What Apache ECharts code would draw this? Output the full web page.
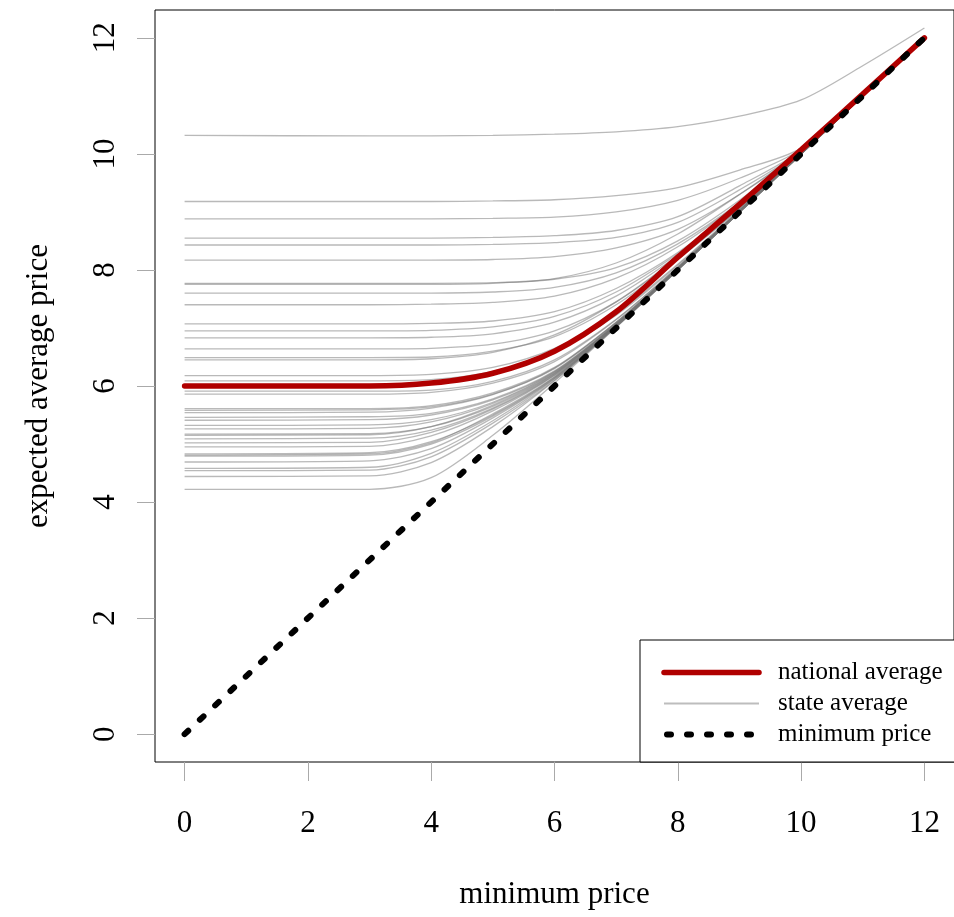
<!DOCTYPE html>
<html>
<head>
<meta charset="utf-8">
<script src="https://cdn.jsdelivr.net/npm/echarts@6/dist/echarts.min.js"></script>
<style>html,body{margin:0;padding:0;background:#fff}#c{width:954px;height:917px}</style>
</head>
<body>
<div id="c"></div>
<script>
// minimum price values at which curves were read
const minimumPriceGrid = [0, 3, 4, 5, 6, 7, 8, 9, 10, 11, 12];
const tickValues = [0, 2, 4, 6, 8, 10, 12];
const legendNames = ['national average', 'state average', 'minimum price'];

const nationalAverage = [6.00, 6.00, 6.05, 6.22, 6.60, 7.28, 8.22, 9.13, 10.07, 11.03, 12.00];
const minimumPriceX = [0, 12];
const minimumPriceY = [0, 12];

const state01 = [10.32, 10.31, 10.31, 10.32, 10.34, 10.38, 10.47, 10.65, 10.93, 11.52, 12.17];
const state02 = [9.18, 9.18, 9.18, 9.19, 9.21, 9.28, 9.42, 9.72, 10.10, 11.02, 12.0];
const state03 = [8.88, 8.88, 8.88, 8.89, 8.91, 9.00, 9.20, 9.58, 10.08, 11.02, 12.0];
const state04 = [8.55, 8.55, 8.55, 8.56, 8.59, 8.68, 8.92, 9.45, 10.06, 11.01, 12.0];
const state05 = [8.43, 8.43, 8.43, 8.44, 8.47, 8.56, 8.82, 9.38, 10.05, 11.01, 12.0];
const state06 = [8.17, 8.17, 8.17, 8.18, 8.23, 8.38, 8.70, 9.30, 10.05, 11.01, 12.0];
const state07 = [7.77, 7.77, 7.77, 7.78, 7.84, 8.04, 8.50, 9.20, 10.04, 11.01, 12.0];
const state08 = [7.75, 7.75, 7.75, 7.77, 7.85, 8.12, 8.62, 9.30, 10.06, 11.01, 12.0];
const state09 = [7.60, 7.60, 7.60, 7.62, 7.70, 7.95, 8.45, 9.16, 10.03, 11.0, 12.0];
const state10 = [7.40, 7.40, 7.41, 7.44, 7.55, 7.86, 8.40, 9.15, 10.03, 11.0, 12.0];
const state11 = [7.07, 7.07, 7.08, 7.12, 7.28, 7.68, 8.30, 9.10, 10.02, 11.0, 12.0];
const state12 = [6.95, 6.95, 6.96, 7.02, 7.20, 7.62, 8.28, 9.08, 10.02, 11.0, 12.0];
const state13 = [6.83, 6.83, 6.84, 6.90, 7.10, 7.55, 8.25, 9.08, 10.02, 11.0, 12.0];
const state14 = [6.64, 6.64, 6.65, 6.72, 6.95, 7.45, 8.20, 9.06, 10.02, 11.0, 12.0];
const state15 = [6.49, 6.49, 6.50, 6.60, 6.85, 7.40, 8.18, 9.05, 10.01, 11.0, 12.0];
const state16 = [6.45, 6.45, 6.47, 6.58, 6.88, 7.45, 8.22, 9.07, 10.02, 11.0, 12.0];
const state17 = [6.18, 6.18, 6.20, 6.32, 6.65, 7.25, 8.10, 9.03, 10.01, 11.0, 12.0];
const state18 = [6.09, 6.09, 6.11, 6.25, 6.60, 7.22, 8.08, 9.03, 10.01, 11.0, 12.0];
const state19 = [5.91, 5.91, 5.93, 6.08, 6.45, 7.15, 8.05, 9.02, 10.0, 11.0, 12.0];
const state20 = [5.86, 5.86, 5.89, 6.05, 6.42, 7.14, 8.05, 9.02, 10.0, 11.0, 12.0];
const state21 = [5.61, 5.61, 5.66, 5.88, 6.32, 7.10, 8.03, 9.01, 10.0, 11.0, 12.0];
const state22 = [5.58, 5.59, 5.64, 5.86, 6.30, 7.09, 8.03, 9.01, 10.0, 11.0, 12.0];
const state23 = [5.54, 5.55, 5.62, 5.85, 6.31, 7.10, 8.04, 9.01, 10.0, 11.0, 12.0];
const state24 = [5.46, 5.47, 5.53, 5.78, 6.26, 7.08, 8.03, 9.01, 10.0, 11.0, 12.0];
const state25 = [5.41, 5.42, 5.50, 5.76, 6.25, 7.07, 8.02, 9.01, 10.0, 11.0, 12.0];
const state26 = [5.32, 5.33, 5.42, 5.72, 6.24, 7.07, 8.02, 9.0, 10.0, 11.0, 12.0];
const state27 = [5.26, 5.27, 5.38, 5.70, 6.23, 7.06, 8.02, 9.0, 10.0, 11.0, 12.0];
const state28 = [5.17, 5.18, 5.30, 5.65, 6.21, 7.06, 8.02, 9.0, 10.0, 11.0, 12.0];
const state29 = [5.15, 5.16, 5.30, 5.67, 6.22, 7.06, 8.02, 9.0, 10.0, 11.0, 12.0];
const state30 = [5.09, 5.10, 5.24, 5.62, 6.20, 7.05, 8.01, 9.0, 10.0, 11.0, 12.0];
const state31 = [5.02, 5.03, 5.20, 5.60, 6.19, 7.05, 8.01, 9.0, 10.0, 11.0, 12.0];
const state32 = [4.95, 4.96, 5.14, 5.57, 6.18, 7.04, 8.01, 9.0, 10.0, 11.0, 12.0];
const state33 = [4.83, 4.85, 5.04, 5.50, 6.15, 7.04, 8.01, 9.0, 10.0, 11.0, 12.0];
const state34 = [4.81, 4.83, 5.02, 5.52, 6.16, 7.04, 8.01, 9.0, 10.0, 11.0, 12.0];
const state35 = [4.79, 4.81, 5.00, 5.48, 6.14, 7.03, 8.01, 9.0, 10.0, 11.0, 12.0];
const state36 = [4.69, 4.71, 4.92, 5.45, 6.13, 7.03, 8.01, 9.0, 10.0, 11.0, 12.0];
const state37 = [4.58, 4.60, 4.84, 5.40, 6.12, 7.03, 8.0, 9.0, 10.0, 11.0, 12.0];
const state38 = [4.54, 4.55, 4.78, 5.36, 6.10, 7.02, 8.0, 9.0, 10.0, 11.0, 12.0];
const state39 = [4.44, 4.45, 4.68, 5.30, 6.09, 7.02, 8.0, 9.0, 10.0, 11.0, 12.0];
const state40 = [4.22, 4.22, 4.42, 5.15, 6.05, 7.01, 8.0, 9.0, 10.0, 11.0, 12.0];

const stateList = [state01, state02, state03, state04, state05, state06, state07, state08, state09, state10,
  state11, state12, state13, state14, state15, state16, state17, state18, state19, state20,
  state21, state22, state23, state24, state25, state26, state27, state28, state29, state30,
  state31, state32, state33, state34, state35, state36, state37, state38, state39, state40];

const FONT = 'Liberation Serif';
const pair = (xs, ys) => xs.map((x, i) => [x, ys[i]]);

const series = [];
stateList.forEach(vals => {
  series.push({
    type: 'line', name: legendNames[1], data: pair(minimumPriceGrid, vals),
    symbol: 'none', smooth: 0.3, clip: false, silent: true,
    itemStyle: { color: '#b8b8b8' },
    lineStyle: { color: 'rgba(115,115,115,0.5)', width: 1.3 },
    emphasis: { disabled: true }
  });
});
series.push({
  type: 'line', name: legendNames[0], data: pair(minimumPriceGrid, nationalAverage),
  symbol: 'none', smooth: 0.3, clip: false, silent: true,
  itemStyle: { color: '#b00000' },
  lineStyle: { color: '#b00000', width: 5.5, cap: 'round' },
  emphasis: { disabled: true }
});
series.push({
  type: 'line', name: legendNames[2], data: pair(minimumPriceX, minimumPriceY),
  symbol: 'none', clip: false, silent: true,
  itemStyle: { color: '#000' },
  lineStyle: { color: '#000', width: 6, type: [5, 16], cap: 'round' },
  emphasis: { disabled: true }
});

const hiddenSymbol = { color: 'rgba(0,0,0,0)', borderWidth: 0, opacity: 0 };

const chart = echarts.init(document.getElementById('c'), null, { renderer: 'canvas' });
chart.setOption({
  animation: false,
  backgroundColor: '#fff',
  grid: { left: 155, top: 10, width: 800, height: 752, show: true, borderColor: '#000', borderWidth: 1, backgroundColor: 'transparent' },
  legend: {
    orient: 'vertical', left: 640, top: 640,
    data: [
      { name: legendNames[0], itemStyle: hiddenSymbol, lineStyle: { color: '#b00000', width: 5.5, cap: 'round' } },
      { name: legendNames[1], itemStyle: hiddenSymbol, lineStyle: { color: '#bdbdbd', width: 2 } },
      { name: legendNames[2], itemStyle: hiddenSymbol, lineStyle: { color: '#000', width: 6, type: [4, 16], cap: 'round', dashOffset: -3 } }
    ],
    itemWidth: 95, itemHeight: 25, itemGap: 6, padding: [20, 30, 15, 21],
    borderColor: '#000', borderWidth: 1, borderRadius: 0, backgroundColor: '#fff',
    selectedMode: false,
    textStyle: { fontFamily: FONT, fontSize: 25, color: '#000', padding: [0, 0, 0, 14] }
  },
  xAxis: {
    type: 'value', min: -0.48, max: 12.48,
    name: 'minimum price', nameLocation: 'middle', nameGap: 117,
    nameTextStyle: { fontFamily: FONT, fontSize: 31, color: '#000' },
    axisLine: { show: false, onZero: false }, splitLine: { show: false },
    axisTick: { show: true, length: 19, lineStyle: { color: '#aaaaaa', width: 1 }, customValues: tickValues },
    axisLabel: { fontFamily: FONT, fontSize: 31, color: '#000', margin: 46, customValues: tickValues }
  },
  yAxis: {
    type: 'value', min: -0.48, max: 12.48,
    name: 'expected average price', nameLocation: 'middle', nameGap: 101,
    nameTextStyle: { fontFamily: FONT, fontSize: 31, color: '#000' },
    axisLine: { show: false, onZero: false }, splitLine: { show: false },
    axisTick: { show: true, length: 18, lineStyle: { color: '#aaaaaa', width: 1 }, customValues: tickValues },
    axisLabel: { fontFamily: FONT, fontSize: 31, color: '#000', margin: 34, rotate: 90, customValues: tickValues }
  },
  series: series
});
</script>
</body>
</html>
